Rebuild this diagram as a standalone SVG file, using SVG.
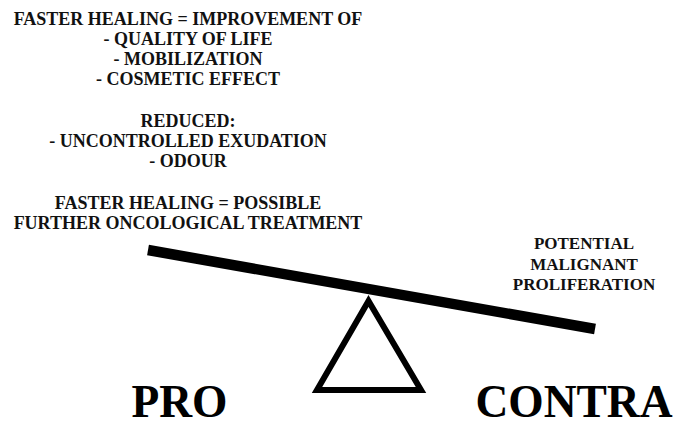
<svg xmlns="http://www.w3.org/2000/svg" width="686" height="423" viewBox="0 0 686 423">
  <style>
    .t { font-family: "Liberation Serif", Tinos, "Times New Roman", "DejaVu Serif", "Noto Serif", serif; font-weight: bold; fill: #111; text-anchor: middle; }
    .small { font-size: 18px; }
    .right { font-size: 17px; }
    .big { font-size: 45.5px; fill: #000; }
  </style>
  <rect width="686" height="423" fill="#fff"/>

  <!-- arguments in favour -->
  <g id="pro-arguments" class="t small" font-family="Liberation Serif, serif">
    <text x="188" y="25">FASTER HEALING = IMPROVEMENT OF</text>
    <text x="188" y="45">- QUALITY OF LIFE</text>
    <text x="188" y="65">- MOBILIZATION</text>
    <text x="188" y="85">- COSMETIC EFFECT</text>
    <text x="188" y="127">REDUCED:</text>
    <text x="188" y="147">- UNCONTROLLED EXUDATION</text>
    <text x="188" y="167">- ODOUR</text>
    <text x="188" y="209">FASTER HEALING = POSSIBLE</text>
    <text x="188" y="229">FURTHER ONCOLOGICAL TREATMENT</text>
  </g>

  <!-- argument against -->
  <g id="contra-arguments" class="t right">
    <text x="584" y="249">POTENTIAL</text>
    <text x="584" y="269.5">MALIGNANT</text>
    <text x="584" y="290">PROLIFERATION</text>
  </g>

  <!-- the balance: tilted beam on a triangular fulcrum -->
  <g id="balance">
    <line id="beam" x1="148" y1="250" x2="595" y2="329" stroke="#000" stroke-width="10.5" stroke-linecap="butt"/>
    <polygon id="fulcrum" points="368.5,301 317,390 421,390" fill="none" stroke="#000" stroke-width="6" stroke-linejoin="miter"/>
  </g>

  <g id="label-pro" class="t big">
    <text x="179.5" y="417">PRO</text>
  </g>
  <g id="label-contra" class="t big">
    <text x="574" y="417">CONTRA</text>
  </g>
</svg>
